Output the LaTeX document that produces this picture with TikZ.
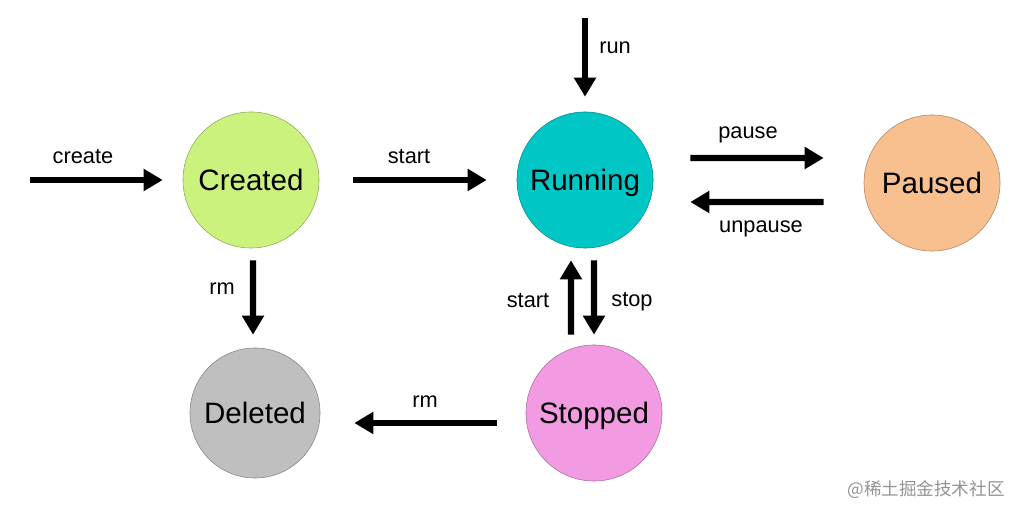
\documentclass[tikz,border=0pt]{standalone}
\usepackage{fontspec}
\setmainfont{Liberation Sans}
\newfontfamily\cjk{Noto Sans CJK SC}
\usetikzlibrary{arrows.meta}

\definecolor{createdc}{HTML}{CCF27E}
\definecolor{runningc}{HTML}{00C6C6}
\definecolor{pausedc}{HTML}{F8C08F}
\definecolor{deletedc}{HTML}{BFBFBF}
\definecolor{stoppedc}{HTML}{F39BE2}

\begin{document}
\begin{tikzpicture}[x=0.025cm, y=-0.025cm,
                state/.style = {draw=#1!70!black, fill=#1, circle, minimum size=3.4cm, inner sep=0pt, text height=15pt, text depth=0pt, font=\fontsize{21}{25}\selectfont},
                flow/.style = {line width=4.3pt, -{Triangle[length=13.5pt, width=15pt]}},
                lbl/.style = {font=\fontsize{15.5}{18}\selectfont},
            ]
            \useasboundingbox (0,0) rectangle (1024,517);

            \node (created) at (251,180) [state=createdc] {Created};
            \node (running) at (585,180) [state=runningc] {Running};
            \node (paused) at (932,183) [state=pausedc] {Paused};
            \node (deleted) at (255,413) [state=deletedc, minimum size=3.25cm] {Deleted};
            \node (stopped) at (594,413) [state=stoppedc] {Stopped};

            \coordinate (entry) at (30,180);
            \coordinate (top) at (585,18);

            \draw[flow, shorten >=0.5cm] (entry) -- (created.west);
            \draw[flow, shorten <=0.85cm, shorten >=0.75cm] (created) -- (running);
            \draw[flow, shorten >=0.375cm] (top) -- (running.north);
            \draw[flow, shorten <=0.925cm, shorten >=1cm] ([yshift=0.55cm]running.east) -- ([yshift=0.625cm]paused.west);
            \draw[flow, shorten <=1cm, shorten >=0.925cm] ([yshift=-0.475cm]paused.west) -- ([yshift=-0.55cm]running.east);
            \draw[flow, shorten <=0.3cm, shorten >=0.325cm] ([xshift=0.05cm]created.south) -- ([xshift=-0.05cm]deleted.north);
            \draw[flow, shorten <=0.25cm, shorten >=0.3cm] ([xshift=-0.575cm]stopped.north) -- ([xshift=-0.35cm]running.south);
            \draw[flow, shorten <=0.3cm, shorten >=0.25cm] ([xshift=0.225cm]running.south) -- (stopped.north);
            \draw[flow, shorten <=0.725cm, shorten >=0.85cm] ([yshift=-0.25cm]stopped.west) -- ([yshift=-0.25cm]deleted.east);

            \node at (83,157) [lbl] {create};
            \node at (409,157) [lbl] {start};
            \node at (615,48) [lbl] {run};
            \node at (748,135) [lbl] {pause};
            \node at (761,229) [lbl] {unpause};
            \node at (222,289) [lbl] {rm};
            \node at (528,301) [lbl] {start};
            \node at (632,302) [lbl] {stop};
            \node at (425,402) [lbl] {rm};

            \node (mark) at (926,490) [text=gray!85, font=\cjk\fontsize{12.5}{15}\selectfont] {@稀土掘金技术社区};
        \end{tikzpicture}
\end{document}
